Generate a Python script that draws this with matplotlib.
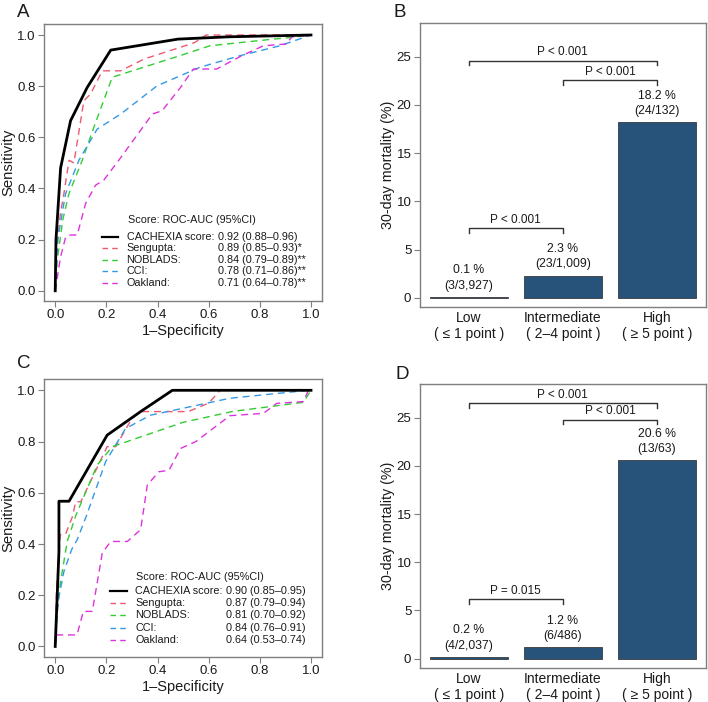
import matplotlib
matplotlib.use("Agg")
import matplotlib.pyplot as plt

plt.rcParams["font.family"] = ["Liberation Sans", "DejaVu Sans"]
plt.rcParams["text.color"] = "#1a1a1a"
plt.rcParams["axes.labelcolor"] = "#1a1a1a"
plt.rcParams["xtick.color"] = "#1a1a1a"
plt.rcParams["ytick.color"] = "#1a1a1a"

# ---- ROC data, panel A (derivation cohort) ----
a_cachexia_fpr = [0, 0.003, 0.021, 0.06, 0.125, 0.217, 0.48, 0.68, 1.0]
a_cachexia_tpr = [0, 0.20, 0.48, 0.665, 0.795, 0.941, 0.984, 0.993, 1.0]
a_sengupta_fpr = [0, 0.005, 0.02, 0.034, 0.054, 0.073, 0.112, 0.138, 0.184, 0.256, 0.347, 0.49, 0.546, 0.59, 1.0]
a_sengupta_tpr = [0, 0.15, 0.30, 0.38, 0.51, 0.50, 0.743, 0.769, 0.86, 0.86, 0.906, 0.952, 0.971, 1.0, 1.0]
a_noblads_fpr = [0, 0.008, 0.03, 0.054, 0.106, 0.151, 0.223, 0.49, 0.605, 0.853, 0.918, 1.0]
a_noblads_tpr = [0, 0.12, 0.28, 0.381, 0.511, 0.639, 0.835, 0.92, 0.958, 0.984, 0.99, 1.0]
a_cci_fpr = [0, 0.01, 0.03, 0.041, 0.093, 0.164, 0.256, 0.399, 0.49, 0.566, 0.722, 0.879, 1.0]
a_cci_tpr = [0, 0.20, 0.32, 0.381, 0.511, 0.632, 0.691, 0.802, 0.841, 0.874, 0.919, 0.958, 1.0]
a_oakland_fpr = [0, 0.021, 0.041, 0.06, 0.086, 0.119, 0.158, 0.19, 0.249, 0.38, 0.418, 0.49, 0.54, 0.631, 0.729, 0.814, 0.905, 0.925, 1.0]
a_oakland_tpr = [0, 0.133, 0.211, 0.218, 0.218, 0.342, 0.413, 0.433, 0.511, 0.691, 0.704, 0.795, 0.867, 0.867, 0.919, 0.958, 0.965, 0.993, 1.0]

# ---- ROC data, panel C (validation cohort) ----
c_cachexia_fpr = [0, 0.0145, 0.0145, 0.054, 0.203, 0.334, 0.458, 1.0]
c_cachexia_tpr = [0, 0.37, 0.567, 0.567, 0.825, 0.917, 1.0, 1.0]
c_sengupta_fpr = [0, 0.005, 0.02, 0.04, 0.067, 0.08, 0.10, 0.203, 0.236, 0.30, 0.334, 0.52, 0.60, 0.645, 1.0]
c_sengupta_tpr = [0, 0.22, 0.437, 0.437, 0.506, 0.565, 0.565, 0.78, 0.78, 0.89, 0.917, 0.917, 0.95, 1.0, 1.0]
c_noblads_fpr = [0, 0.008, 0.021, 0.047, 0.08, 0.164, 0.223, 0.50, 0.696, 0.97, 1.0]
c_noblads_tpr = [0, 0.15, 0.254, 0.41, 0.51, 0.708, 0.78, 0.875, 0.918, 0.953, 1.0]
c_cci_fpr = [0, 0.005, 0.014, 0.034, 0.065, 0.086, 0.122, 0.197, 0.275, 0.373, 0.50, 0.683, 0.99, 1.0]
c_cci_tpr = [0, 0.10, 0.19, 0.293, 0.38, 0.417, 0.51, 0.721, 0.851, 0.903, 0.93, 0.969, 1.0, 1.0]
c_oakland_fpr = [0, 0.003, 0.085, 0.11, 0.145, 0.184, 0.217, 0.282, 0.334, 0.36, 0.405, 0.445, 0.49, 0.55, 0.683, 0.814, 0.866, 0.97, 0.99, 1.0]
c_oakland_tpr = [0, 0.045, 0.045, 0.137, 0.137, 0.365, 0.41, 0.41, 0.456, 0.63, 0.682, 0.688, 0.773, 0.80, 0.901, 0.91, 0.949, 0.956, 1.0, 1.0]

roc_names = ["CACHEXIA score:", "Sengupta:", "NOBLADS:", "CCI:", "Oakland:"]
roc_colors = ["black", "#EC5A72", "#33CC33", "#3399E6", "#DD33DD"]
a_auc = ["0.92 (0.88\u20130.96)", "0.89 (0.85\u20130.93)*", "0.84 (0.79\u20130.89)**",
         "0.78 (0.71\u20130.86)**", "0.71 (0.64\u20130.78)**"]
c_auc = ["0.90 (0.85\u20130.95)", "0.87 (0.79\u20130.94)", "0.81 (0.70\u20130.92)",
         "0.84 (0.76\u20130.91)", "0.64 (0.53\u20130.74)"]

# ---- mortality bars ----
groups = ["Low\n( \u2264 1 point )", "Intermediate\n( 2\u20134 point )", "High\n( \u2265 5 point )"]
b_mort = [0.1, 2.3, 18.2]
b_counts = ["(3/3,927)", "(23/1,009)", "(24/132)"]
d_mort = [0.2, 1.2, 20.6]
d_counts = ["(4/2,037)", "(6/486)", "(13/63)"]
b_pvals = ["P < 0.001", "P < 0.001", "P < 0.001"]   # low-int, int-high, low-high
d_pvals = ["P = 0.015", "P < 0.001", "P < 0.001"]

FRAME = "#7f7f7f"
BAR = "#27527A"

fig = plt.figure(figsize=(7.08, 7.02), dpi=100, facecolor="white")


def style_frame(ax):
    for s in ax.spines.values():
        s.set_color(FRAME)
        s.set_linewidth(1.0)


def roc_panel(ax, curves, auc, leg):
    for (fpr, tpr), col, i in zip(curves, roc_colors, range(5)):
        if i == 0:
            ax.plot(fpr, tpr, color=col, lw=2.0, zorder=5)
        else:
            ax.plot(fpr, tpr, color=col, lw=1.0, dashes=(5, 3.5), zorder=4)
    ax.set_xlim(-0.044, 1.043)
    ax.set_ylim(-0.04, 1.043)
    ticks = [0, 0.2, 0.4, 0.6, 0.8, 1.0]
    ax.set_xticks(ticks)
    ax.set_yticks(ticks)
    ax.set_xticklabels(["%.1f" % t for t in ticks])
    ax.set_yticklabels(["%.1f" % t for t in ticks])
    ax.tick_params(labelsize=9.5, length=4, color=FRAME, pad=2)
    ax.set_xlabel("1\u2013Specificity", fontsize=10.5, labelpad=2)
    ax.set_ylabel("Sensitivity", fontsize=10.7, labelpad=1)
    style_frame(ax)
    hx, hy, lx0, lx1, nx, vx, y0, dy = leg
    ax.text(hx, hy, "Score: ROC-AUC (95%CI)", fontsize=7.8, va="center")
    for i in range(5):
        y = y0 - i * dy
        if i == 0:
            ax.plot([lx0, lx1], [y, y], color=roc_colors[i], lw=1.6)
        else:
            ax.plot([lx0, lx1], [y, y], color=roc_colors[i], lw=1.0, dashes=(4, 3))
        ax.text(nx, y, roc_names[i], fontsize=7.8, va="center")
        ax.text(vx, y, auc[i], fontsize=7.8, va="center")


def bar_panel(ax, mort, counts, pvals, brk):
    xs = range(len(mort))
    ax.bar(xs, mort, width=0.83, color=BAR, edgecolor="#3a3a3a", linewidth=0.6)
    for x, h, c in zip(xs, mort, counts):
        ax.text(x, h + 1.15, c, ha="center", va="center", fontsize=8.8)
        ax.text(x, h + 2.75, "%.1f %%" % h, ha="center", va="center", fontsize=8.8)
    ax.set_xlim(-0.52, 2.52)
    ax.set_ylim(-0.93, 28.46)
    ax.set_yticks([0, 5, 10, 15, 20, 25])
    ax.set_xticks(list(xs))
    ax.set_xticklabels(groups)
    ax.tick_params(axis="x", length=0, labelsize=10, pad=3)
    ax.tick_params(axis="y", length=4, color=FRAME, labelsize=9.5, pad=2)
    ax.set_ylabel("30-day mortality (%)", fontsize=10.3, labelpad=1)
    style_frame(ax)
    pairs = [(0, 1), (1, 2), (0, 2)]
    for (x0, x1), p, yb in zip(pairs, pvals, brk):
        ax.plot([x0, x0, x1, x1], [yb - 0.5, yb, yb, yb - 0.5], color="#333333", lw=1.0)
        ax.text((x0 + x1) / 2, yb + 0.85, p, ha="center", va="center", fontsize=8.5)


axA = fig.add_axes([0.0621, 0.5712, 0.3927, 0.3946])
roc_panel(axA,
          [(a_cachexia_fpr, a_cachexia_tpr), (a_sengupta_fpr, a_sengupta_tpr),
           (a_noblads_fpr, a_noblads_tpr), (a_cci_fpr, a_cci_tpr),
           (a_oakland_fpr, a_oakland_tpr)],
          a_auc, (0.285, 0.276, 0.181, 0.246, 0.279, 0.637, 0.212, 0.045))

axC = fig.add_axes([0.0621, 0.0645, 0.3927, 0.3952])
roc_panel(axC,
          [(c_cachexia_fpr, c_cachexia_tpr), (c_sengupta_fpr, c_sengupta_tpr),
           (c_noblads_fpr, c_noblads_tpr), (c_cci_fpr, c_cci_tpr),
           (c_oakland_fpr, c_oakland_tpr)],
          c_auc, (0.316, 0.27, 0.214, 0.279, 0.312, 0.668, 0.215, 0.047))

axB = fig.add_axes([0.5928, 0.5631, 0.4044, 0.4037])
bar_panel(axB, b_mort, b_counts, b_pvals, [7.2, 22.6, 24.6])

axD = fig.add_axes([0.5928, 0.0489, 0.4044, 0.4037])
bar_panel(axD, d_mort, d_counts, d_pvals, [6.2, 24.8, 26.5])

for lab, x, y in [("A", 0.024, 0.994), ("B", 0.556, 0.994), ("C", 0.024, 0.494), ("D", 0.558, 0.478)]:
    fig.text(x, y, lab, fontsize=13.5, va="top", ha="left")

fig.savefig("out.png", dpi=100, facecolor="white")
